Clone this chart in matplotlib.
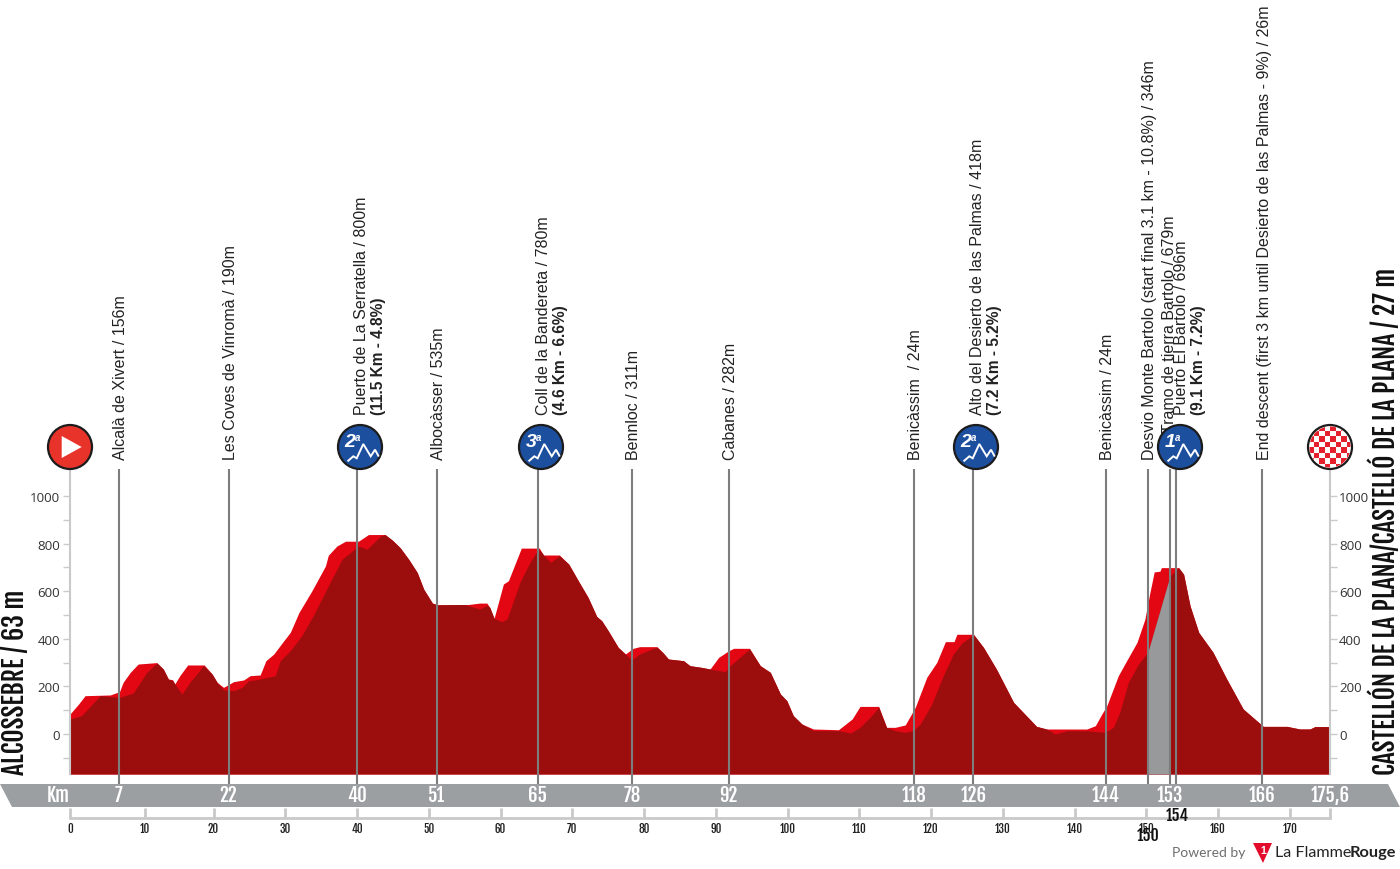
import numpy as np
import matplotlib
matplotlib.use('Agg')
import matplotlib.pyplot as plt
from matplotlib.patches import Circle, Polygon, Rectangle

W, H = 1400, 870
TEXT = 'Liberation Sans'
COND = ['Fjalla One', 'Roboto']

# surface line (bright red) and front line (dark red) of the profile
top_km = [0, 1.2, 2.1, 5.6, 6.9, 7.4, 8.4, 9.5, 12.1, 13, 13.7, 14.3, 14.6, 15.3, 16.4, 18.7, 19.8, 20.5, 21.4,
          22.8, 24.2, 25.1, 26.5, 27.3, 28.4, 29.8, 30.7, 31.9, 33.7, 35.6, 36, 37.2, 38.4, 40.2, 41.6, 43.9,
          44.9, 46, 47.2, 48.4, 49.3, 50.5, 51.2, 55.5, 57.1, 58.1, 58.5, 59.1, 60.4, 61.1, 62.9, 65.4, 66, 68.2,
          69.5, 71.1, 72.2, 73.4, 74.1, 75, 76.4, 77.4, 78.5, 79.4, 81.8, 82.6, 83.4, 85.5, 86.4, 88, 89.2,
          90.4, 91.8, 92.5, 94.7, 96.2, 97.6, 99, 99.9, 100.8, 102, 103.6, 107.1, 109, 110.1, 112.7, 113.8, 115,
          116.4, 117.8, 119.4, 120.8, 122, 123.2, 123.6, 125.9, 127.3, 129.1, 131.5, 134.7, 136.1, 141.7, 142.9,
          143.8, 144.5, 146.1, 147, 148.7, 149.8, 150.5, 151.1, 151.9, 152.1, 154.5, 155.2, 156.1, 157.3, 159.3,
          161.2, 163.5, 166.3, 169.6, 171.4, 172.8, 173.5, 175.6]
top_m = [84, 126, 161, 164, 178, 217, 259, 294, 300, 273, 231, 228, 210, 245, 290, 290, 252, 217, 196,
         220, 227, 245, 248, 308, 336, 392, 427, 510, 601, 706, 751, 790, 810, 810, 838, 838,
         815, 783, 734, 678, 608, 550, 543, 544, 550, 550, 532, 486, 630, 644, 781, 781, 752, 752,
         714, 630, 574, 494, 476, 434, 364, 336, 360, 367, 367, 343, 315, 308, 287, 280, 273,
         322, 350, 360, 360, 287, 259, 168, 140, 77, 42, 21, 18, 63, 116, 116, 28, 28,
         38, 112, 238, 301, 388, 388, 419, 419, 364, 273, 133, 32, 21, 21, 35,
         84, 119, 245, 294, 385, 482, 594, 681, 684, 699, 699, 671, 538, 427, 343,
         231, 105, 32, 32, 21, 21, 31, 31]

front_km = [0, 1.6, 4.2, 6.9, 8.8, 10.7, 12.1, 13, 13.7, 14.3, 15.6, 16.7, 18.6, 19.8, 20.5, 21.4,
            22.8, 24, 24.9, 26, 28.6, 29.3, 30.7, 32.3, 34, 36, 37.9, 40.2, 41.4, 43.3, 43.9,
            44.9, 46, 47.2, 48.4, 49.3, 50.5, 51.2, 55, 57.1, 58.1, 58.5, 59.1, 60.2, 60.9, 62.7, 64.1, 65.3, 66, 67, 68.2,
            69.5, 71.1, 72.2, 73.4, 74.1, 75, 76.4, 77.4, 78.3, 79.4, 81.3, 81.8, 82.6, 83.4, 85.5, 86.4, 88, 89.2,
            91.3, 92, 94.7, 96.2, 97.6, 99, 99.9, 100.8, 102, 103.6, 107.1, 108.8, 110.1, 111.5, 112.7, 113.8, 115,
            116.4, 117.5, 118.5, 120.1, 121.7, 123.1, 124.3, 125.7, 125.9, 127.3, 129.1, 131.5, 134.7, 136.1, 137.3,
            139, 141.7, 144.2, 145.4, 146.3, 147.5, 148.9, 150.2,
            153.3, 154.5, 155.2, 156.1, 157.3, 159.3, 161.2, 163.5, 166.3, 169.6, 171.4, 172.8, 173.5, 175.6]
front_m = [63, 77, 161, 154, 172, 259, 298, 273, 231, 224, 168, 217, 287, 252, 217, 186,
           182, 196, 224, 228, 245, 308, 350, 413, 503, 622, 734, 790, 776, 832, 838,
           815, 783, 734, 678, 608, 550, 543, 544, 525, 540, 532, 486, 472, 483, 637, 721, 777, 752, 721, 749,
           714, 630, 574, 494, 476, 434, 364, 336, 311, 336, 360, 364, 343, 315, 308, 287, 280, 273,
           262, 287, 357, 287, 259, 168, 140, 77, 42, 14, 14, 4, 28, 70, 112, 28, 14,
           7, 14, 42, 126, 245, 336, 382, 413, 419, 364, 273, 133, 32, 21, 0,
           14, 14, 7, 28, 91, 217, 294, 343,
           664, 699, 671, 538, 427, 343, 231, 105, 32, 32, 21, 21, 31, 31]

# unpaved stretch (grey)
gravel_km = [150.2, 153.3]
gravel_m = [343, 664]

# passage points
pass_km = [6.8, 22.1, 40, 51.1, 65.2, 78.3, 91.8, 117.6, 125.9, 144.4, 150.2, 153.3, 154.2, 166.1]
band_labels = ['7', '22', '40', '51', '65', '78', '92', '118', '126', '144', '153', '166']
band_km = [6.8, 22.1, 40, 51.1, 65.2, 78.3, 91.8, 117.6, 125.9, 144.4, 153.3, 166.1]

labels = ['Alcalà de Xivert / 156m', 'Les Coves de Vinromà / 190m', 'Albocàsser / 535m', 'Bennloc / 311m',
          'Cabanes / 282m', 'Benicàssim  / 24m', 'Benicàssim / 24m',
          'Desvio Monte Bartolo (start final 3.1 km - 10.8%) / 346m', 'Tramo de tierra Bartolo / 679m',
          'End descent (first 3 km until Desierto de las Palmas - 9%) / 26m']
label_x = [120.5, 230.5, 438.5, 633.5, 730.5, 915.5, 1107.5, 1149.5, 1170, 1264.5]
label_y = [460, 460, 460, 460, 460, 460, 460, 460, 433, 460]

climbs = ['Puerto de La Serratella / 800m', 'Coll de la Bandereta / 780m',
          'Alto del Desierto de las Palmas / 418m', 'Puerto El Bartolo / 696m']
climb_info = ['(11.5 Km - 4.8%)', '(4.6 Km - 6.6%)', '(7.2 Km - 5.2%)', '(9.1 Km - 7.2%)']
climb_cat = ['2', '3', '2', '1']
climb_x = [360, 541, 976, 1180]

km_ticks = [0, 10.4, 20, 30, 40, 50, 60, 70, 80, 90, 100, 110, 120, 130, 140, 150, 160, 170, 175.6]
km_labels = ['0', '10', '20', '30', '40', '50', '60', '70', '80', '90', '100', '110', '120', '130', '140',
             '150', '160', '170', '']


def px_axes(fig, x0, y0, x1, y1):
    return fig.add_axes([x0 / W, 1 - y1 / H, (x1 - x0) / W, (y1 - y0) / H])


fig = plt.figure(figsize=(W / 100, H / 100), dpi=100)

# profile
ax = px_axes(fig, 70, 467, 1330, 775)
ax.set_xlim(0, 175.6)
ax.set_ylim(-168, 1126)
ax.patch.set_alpha(0)
ax.fill_between(top_km, top_m, -168, color='#e30613', lw=0, zorder=1)
ax.fill_between(front_km, front_m, -168, color='#9c0e0e', lw=0, zorder=2)
ax.fill_between(gravel_km, gravel_m, -168, color='#98999b', lw=0, zorder=3)
ax.vlines(pass_km, -210, 1113, color='#7d7d7d', lw=1.5, zorder=4, clip_on=False)
for s in ['top', 'bottom']:
    ax.spines[s].set_visible(False)
for s in ['left', 'right']:
    ax.spines[s].set_color('#c9c9c9')
    ax.spines[s].set_linewidth(1.5)
ax.set_xticks([])
ax.set_yticks(np.arange(0, 1001, 200))
ax.set_yticks(np.arange(-100, 1000, 200), minor=True)
ax.tick_params(axis='y', which='both', left=True, right=False, length=5, width=1, color='#c9c9c9',
               labelsize=9.6, labelcolor='#333333', pad=2)
for t in ax.get_yticklabels():
    t.set_family('Open Sans')

# same scale on the right side
ar = ax.twinx()
ar.set_ylim(ax.get_ylim())
ar.patch.set_alpha(0)
for s in ar.spines.values():
    s.set_visible(False)
ar.set_yticks(np.arange(0, 1001, 200))
ar.set_yticks(np.arange(-100, 1000, 200), minor=True)
ar.tick_params(axis='y', which='both', length=5, width=1, color='#c9c9c9', labelsize=9.6,
               labelcolor='#333333', pad=1.5)
for t in ar.get_yticklabels():
    t.set_family('Open Sans')

# km scale under the band
ak = px_axes(fig, 70, 812, 1330, 819)
ak.set_xlim(0, 175.6)
ak.set_ylim(0, 1)
ak.patch.set_alpha(0)
ak.set_yticks([])
for s in ['top', 'left', 'right']:
    ak.spines[s].set_visible(False)
ak.spines['bottom'].set_color('#c9c9c9')
ak.spines['bottom'].set_linewidth(2)
ak.set_xticks(km_ticks)
ak.set_xticklabels(km_labels, family=COND, fontsize=8, color='#222222')
ak.tick_params(axis='x', direction='in', length=7, width=2, color='#c9c9c9', pad=3)

# everything placed by pixel: band, signs, names, logo
deco = fig.add_axes([0, 0, 1, 1], zorder=10)
deco.set_xlim(0, W)
deco.set_ylim(H, 0)
deco.axis('off')
deco.add_patch(Polygon([(0, 785), (1388, 785), (1400, 808), (12, 808)], color='#9c9fa1', lw=0))
deco.text(58, 796, 'Km', color='white', family=COND, fontsize=13.5, ha='center', va='center')
for km, lab in zip(band_km, band_labels):
    deco.text(70 + km * 1260 / 175.6, 796, lab, color='white', family=COND, fontsize=13.5,
              ha='center', va='center')
deco.text(1330, 796, '175,6', color='white', family=COND, fontsize=13.5, ha='center', va='center')
deco.text(1177, 816, '154', color='#111111', family=COND, fontsize=11.5, ha='center', va='center')
deco.text(1148, 836, '150', color='#111111', family=COND, fontsize=11.5, ha='center', va='center')

for lab, x, y in zip(labels, label_x, label_y):
    deco.text(x, y, lab, rotation=90, family=TEXT, fontsize=11.55, color='#222222', ha='center', va='bottom')
for name, info, x in zip(climbs, climb_info, climb_x):
    deco.text(x + 2, 415, name, rotation=90, family=TEXT, fontsize=11.55, color='#222222', ha='center', va='bottom')
    deco.text(x + 19, 415, info, rotation=90, family=TEXT, fontsize=11.2, fontweight='bold', color='#222222',
              ha='center', va='bottom')

deco.text(15, 775, 'ALCOSSEBRE / 63 m', rotation=90, family=COND, fontsize=18.5,
          color='#111111', ha='center', va='bottom')
deco.text(1385, 775, 'CASTELLÓN DE LA PLANA/CASTELLÓ DE LA PLANA / 27 m', rotation=90, family=COND,
          fontsize=18.5, color='#111111', ha='center', va='bottom')


def sign(x, color):
    c = Circle((x, 448), 22, facecolor=color, edgecolor='#1c1c1c', lw=1.6, zorder=5)
    deco.add_patch(c)
    return c


# start sign
sign(70, '#e8332a')
deco.add_patch(Polygon([(61.7, 437), (81.7, 448), (61.7, 459)], color='white', lw=0, zorder=6))

# finish sign, checkered
fin = sign(1330, 'white')
for i in range(-4, 4):
    for j in range(-4, 4):
        if (i + j) % 2 == 0:
            r = Rectangle((1330 + i * 5.5, 448 + j * 5.5), 5.5, 5.5, color='#e3202c', lw=0, zorder=6)
            deco.add_patch(r)
            r.set_clip_path(Circle((1330, 448), 20.5, transform=deco.transData))

# climb signs
for cat, x in zip(climb_cat, climb_x):
    sign(x, '#1d4f9f')
    deco.plot([x - 11.7, x - 6.7, x - 3.3, x + 3.3, x + 10.7, x + 15, x + 18.3],
              [461.7, 457.3, 459.3, 445, 457.3, 450.7, 456.7], color='white', lw=1.4, zorder=6,
              solid_joinstyle='miter')
    deco.text(x - 10, 442.5, cat, family=TEXT, style='italic', fontweight='bold', fontsize=14, color='white',
              ha='center', va='center', zorder=7)
    deco.text(x - 2.5, 438, 'a', family=TEXT, style='italic', fontweight='bold', fontsize=7, color='white',
              ha='center', va='center', zorder=7)

# logo
deco.text(1172, 853, 'Powered by', family='Lato', fontsize=10, color='#6e6e6e', ha='left', va='center')
deco.add_patch(Polygon([(1253, 844), (1272, 844), (1263, 864)], color='#e30b2c', lw=0))
deco.text(1263, 851, '1', family=TEXT, fontweight='bold', fontsize=7.5, color='white', ha='center', va='center')
deco.text(1275, 853, 'La Flamme', family='Lato', fontsize=11.6, color='#222222', ha='left', va='center')
deco.text(1350, 853, 'Rouge', family='Lato', fontweight='bold', fontsize=11.8, color='#222222', ha='left', va='center')

fig.savefig('out.png', dpi=100)
